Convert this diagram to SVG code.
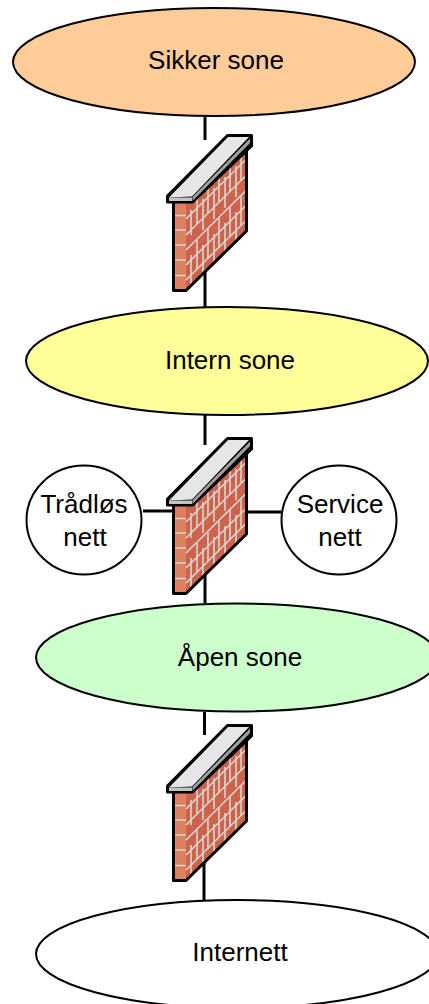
<svg xmlns="http://www.w3.org/2000/svg" width="429" height="1004" viewBox="0 0 429 1004">
<style>
.n{stroke:#000;stroke-width:2}
.c{stroke:#000;stroke-width:3;fill:none}
text{font-family:"Liberation Sans",Arial,sans-serif;font-size:26px;fill:#000;text-anchor:middle}
.o{stroke:#000;stroke-width:3;stroke-linejoin:round}
.m{stroke:#d9d5d0;stroke-width:1.6;fill:none}
</style>
<defs>
<g id="wall">
<path d="M173.5 201H186V290.500H173.500Z" fill="#dd8060"/>
<path d="M186 201L246.500 141V231L186 290.500Z" fill="#cd634c"/>
<path class="m" d="M174 215.500H186M174 230H186M174 245H186M174 260H186M174 275.500H186"/>
<path class="m" d="M186 219L246.500 159M186 235L246.500 175M186 250L246.500 190M186 265L246.500 205M186 280L246.500 220"/>
<path class="m" d="M197 190V224M197 240V269M208 179V213M208 229V259M219 168V202M219 218V248M230 157V191M230 207V237M241 146V180M241 196V226M191 210V235M191 255V285M203 199V230M203 245V275M214 188V219M214 234V264M225 177V208M225 223V253M236 166V197M236 212V242"/>
<path class="o" d="M173.500 201V290.500H186L246.500 231V141" fill="none"/>
<path class="o" d="M167.500 196L227.500 135.500H251.500V146L192.500 202H167.500Z" fill="#000"/>
<path d="M169 197.500L228 137H249L192 196.500Z" fill="#e6e6e6"/>
<path d="M169 197.500H192V201H169Z" fill="#c4c4c4"/>
<path d="M192.500 197L250 138.500V143L192.500 201Z" fill="#a0a0a0"/>
</g>
</defs>
<g id="connectors">
<path class="c" d="M205 116V140"/>
<path class="c" d="M205 270V307"/>
<path class="c" d="M205 415V445"/>
<path class="c" d="M205 570V603"/>
<path class="c" d="M143 511H173"/>
<path class="c" d="M247 512H281"/>
<path class="c" d="M204.500 712V735"/>
<path class="c" d="M204 860V900"/>
</g>
<g id="sikker"><ellipse class="n" cx="214" cy="62" rx="201" ry="54" fill="#fdcc99"/><text x="216" y="69">Sikker sone</text></g>
<g id="firewall1"><use href="#wall"/></g>
<g id="intern"><ellipse class="n" cx="227" cy="361" rx="201" ry="54" fill="#ffff99"/><text x="230" y="369">Intern sone</text></g>
<g id="firewall2"><use href="#wall" y="303"/></g>
<g id="tradlos"><ellipse class="n" cx="84" cy="520" rx="57.500" ry="54.500" fill="#fff"/><text x="84" y="513">Trådløs</text><text x="85" y="546">nett</text></g>
<g id="service"><ellipse class="n" cx="339" cy="520" rx="57.500" ry="54.500" fill="#fff"/><text x="340" y="513">Service</text><text x="340" y="546">nett</text></g>
<g id="apen"><ellipse class="n" cx="237" cy="657.500" rx="201" ry="54" fill="#ccffcc"/><text x="240" y="666">Åpen sone</text></g>
<g id="firewall3"><use href="#wall" y="590"/></g>
<g id="internett"><ellipse class="n" cx="237" cy="954" rx="201" ry="54" fill="#fff"/><text x="240" y="961">Internett</text></g>
</svg>
